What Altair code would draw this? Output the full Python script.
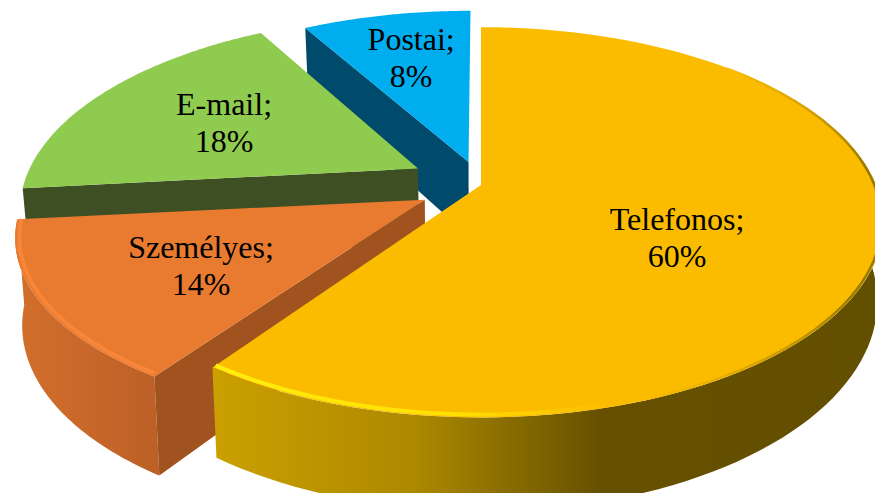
import numpy as np
import pandas as pd
import altair as alt

categories = ["Telefonos", "Személyes", "E-mail", "Postai"]
shares = [60, 14, 18, 8]
explode = [0.0, 0.16, 0.185, 0.13]
# small per-edge corrections for the camera's angle on the pie
skew_start = [0, -2.5, -2.5, -1]
skew_end = [-1, -2.5, -1, 0]
squash = [1.0, 0.93, 1.0, 1.0]
wall = [76, 83, 76, 76]
label_u = [0.471, -0.655, -0.695, -0.203]
label_v = [-0.2675, -0.398, 0.358, 0.776]

# view geometry of the tilted pie
CX, CY, R, A, K, TAPER = 481, 185, 395, 188, 0.191, 0.985

def project(u, v, depth=0.0):
    s = 1 + K * v
    x = CX + R * u / s
    y = CY + (-A * v + depth) / s
    if depth:
        x = CX + (x - CX) * TAPER
    return x, y

edges = np.cumsum([0] + shares) * 3.6
slices = {}
for i, c in enumerate(categories):
    a0, a1 = edges[i], edges[i + 1]
    mid = np.radians((a0 + a1) / 2)
    slices[c] = dict(a0=a0 + skew_start[i], a1=a1 + skew_end[i], sq=squash[i], h=wall[i],
                     du=explode[i] * np.sin(mid), dv=explode[i] * np.cos(mid))

def arc(c, a0, a1, depth=0.0, rad=1.0, n=80):
    s = slices[c]
    t = np.radians(np.linspace(a0, a1, n))
    return [project(s["du"] + rad * np.sin(a), s["dv"] + s["sq"] * rad * np.cos(a), depth) for a in t]

def apex(c, depth=0.0):
    return [project(slices[c]["du"], slices[c]["dv"], depth)]

XS = alt.Scale(domain=[8, 875], nice=False, zero=False)
YS = alt.Scale(domain=[493, 8], nice=False, zero=False)

def shape(points, **style):
    df = pd.DataFrame(points, columns=["x", "y"])
    df["i"] = range(len(df))
    return alt.Chart(df).mark_line(clip=True, **style).encode(
        x=alt.X("x:Q", scale=XS, axis=None),
        y=alt.Y("y:Q", scale=YS, axis=None),
        order="i:Q",
    )

def poly(points, fill):
    return shape(points, fill=fill, strokeWidth=0)

def grad(stops, x1=0, x2=1, y1=0, y2=0):
    return alt.Gradient(
        gradient="linear", x1=x1, x2=x2, y1=y1, y2=y2,
        stops=[alt.GradientStop(offset=o, color=c) for o, c in stops],
    )

def top(c):
    s = slices[c]
    return apex(c) + arc(c, s["a0"], s["a1"])

def radial_wall(c, angle):
    h = slices[c]["h"]
    e = arc(c, angle, angle, n=1)
    eb = arc(c, angle, angle, depth=h, n=1)
    return apex(c) + e + eb + apex(c, h)

def outer_wall(c, a0, a1):
    return arc(c, a0, a1) + arc(c, a0, a1, depth=slices[c]["h"])[::-1]

T, S, E, P = categories
layers = [
    poly(radial_wall(P, slices[P]["a0"]), "#004A6B"),
    poly(top(P), "#00AEEF"),
    poly(radial_wall(E, slices[E]["a0"]), "#3E5023"),
    poly(top(E), "#8FCB4F"),
    poly(outer_wall(S, slices[S]["a0"], slices[S]["a1"]),
         grad([(0, "#BC6027"), (1, "#D36F2C")], x1=1, x2=0)),
    poly(radial_wall(S, slices[S]["a0"]), "#A0531F"),
    poly(top(S), "#E97B30"),
    shape(arc(S, slices[S]["a0"] + 0.5, slices[S]["a1"], rad=0.99), stroke="#F98638", strokeWidth=4),
    poly(outer_wall(T, 60, slices[T]["a1"]),
         grad([(0, "#CBA000"), (0.3, "#AD8900"), (0.58, "#665000"), (1, "#634F00")])),
    poly(top(T), "#FBBC00"),
    shape(arc(T, 165, slices[T]["a1"], rad=0.99), strokeWidth=4,
          stroke=grad([(0, "#FFEE10"), (0.6, "#FFE000"), (1, "#FBBC00")])),
    shape(arc(T, 45, 160, rad=0.996), strokeWidth=2.5,
          stroke=grad([(0, "#FBBC00"), (0.3, "#9A7A00"), (0.7, "#9A7A00"), (1, "#FBBC00")],
                      x1=0, x2=0, y1=0, y2=1)),
]

labels = pd.DataFrame({
    "text": [f"{c};\n{p}%" for c, p in zip(categories, shares)],
    "x": [project(u, v)[0] for u, v in zip(label_u, label_v)],
    "y": [project(u, v)[1] for u, v in zip(label_u, label_v)],
})
text = alt.Chart(labels).mark_text(
    font="Liberation Serif", fontSize=32, color="#000000", lineBreak="\n", lineHeight=37,
    align="center", baseline="middle", dy=-17.5,
).encode(
    x=alt.X("x:Q", scale=XS, axis=None),
    y=alt.Y("y:Q", scale=YS, axis=None),
    text="text:N",
)

chart = alt.layer(*layers, text).properties(
    width=867, height=485, padding=0, autosize=alt.AutoSizeParams(type="none"),
    background="#FFFFFF",
).configure_view(stroke=None)

chart.save("out.html", embed_options={"renderer": "svg", "actions": False})
